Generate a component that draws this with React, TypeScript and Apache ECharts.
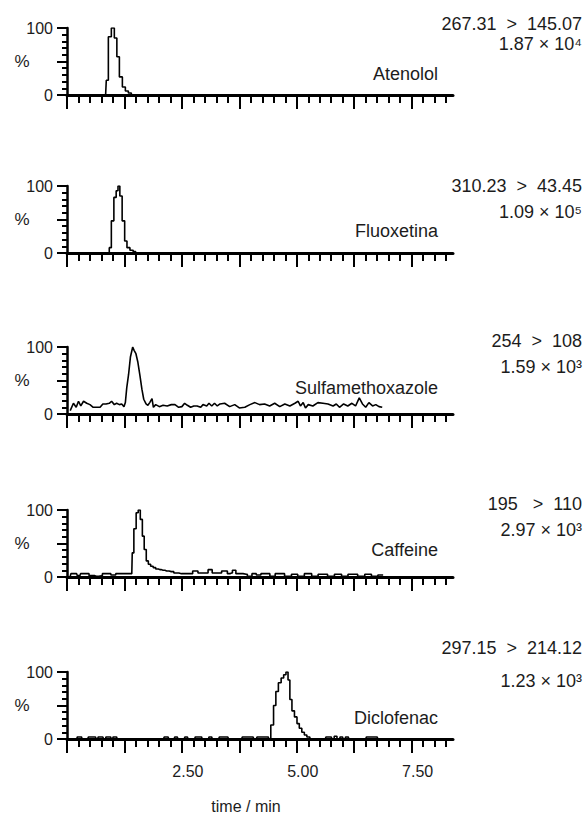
import React, { useEffect, useRef } from "react";
import * as echarts from "echarts";

const compoundNames = ["Atenolol", "Fluoxetina", "Sulfamethoxazole", "Caffeine", "Diclofenac"];
const transitions = ["267.31  >  145.07", "310.23  >  43.45", "254  >  108", "195   >  110", "297.15  >  214.12"];
const intensities = ["1.87 × 10⁴", "1.09 × 10⁵", "1.59 × 10³", "2.97 × 10³", "1.23 × 10³"];

const xMajorTicks = [0, 1.25, 2.5, 3.75, 5, 6.25, 7.5];
const xMinorTicks = [0, 0.25, 0.5, 0.75, 1, 1.25, 1.5, 1.75, 2, 2.25, 2.5, 2.75, 3, 3.25, 3.5, 3.75, 4, 4.25, 4.5, 4.75, 5, 5.25, 5.5, 5.75, 6, 6.25, 6.5, 6.75, 7, 7.25, 7.5, 7.75, 8, 8.25];
const xTickLabels = [2.5, 5, 7.5];
const yTickLabels = [0, 100];

const atenololTrace: [number, number][] = [
  [0.07, 0], [0.84, 0], [0.87, 22], [0.93, 87], [1.0, 100], [1.06, 85], [1.11, 57], [1.17, 27],
  [1.24, 12], [1.3, 6], [1.37, 3], [1.43, 0], [6.9, 0],
];

const fluoxetinaTrace: [number, number][] = [
  [0.07, 0], [0.9, 0], [0.94, 8], [0.99, 48], [1.05, 83], [1.09, 93], [1.13, 100], [1.17, 85],
  [1.23, 48], [1.28, 18], [1.33, 8], [1.41, 4], [1.47, 2], [1.52, 0], [6.9, 0],
];

const sulfamethoxazoleTrace: [number, number][] = [
  [0.07, 5], [0.14, 16], [0.2, 10], [0.25, 19], [0.3, 12], [0.36, 19], [0.43, 16], [0.5, 14],
  [0.57, 10], [0.65, 10], [0.72, 10], [0.78, 15], [0.85, 15], [0.92, 16], [0.97, 19], [1.03, 14],
  [1.08, 16], [1.14, 14], [1.19, 15], [1.24, 11], [1.27, 17], [1.3, 39], [1.34, 59], [1.38, 85],
  [1.43, 100], [1.46, 95], [1.5, 90], [1.54, 78], [1.59, 56], [1.63, 37], [1.67, 22], [1.72, 15],
  [1.76, 13], [1.8, 17], [1.85, 23], [1.88, 10], [1.93, 14], [2.01, 11], [2.09, 13], [2.18, 12],
  [2.27, 14], [2.35, 14], [2.43, 10], [2.5, 11], [2.56, 16], [2.62, 13], [2.69, 10], [2.76, 12],
  [2.83, 12], [2.91, 10], [2.96, 14], [3.04, 12], [3.09, 16], [3.15, 12], [3.21, 16], [3.27, 12],
  [3.33, 15], [3.43, 16], [3.54, 11], [3.65, 14], [3.75, 9], [3.87, 10], [3.98, 14], [4.09, 17],
  [4.19, 14], [4.3, 15], [4.41, 12], [4.52, 16], [4.63, 11], [4.74, 15], [4.85, 12], [4.96, 16],
  [5.03, 19], [5.08, 12], [5.14, 17], [5.19, 9], [5.25, 14], [5.35, 12], [5.46, 17], [5.57, 16],
  [5.68, 15], [5.79, 12], [5.86, 15], [5.93, 10], [6.02, 15], [6.11, 12], [6.2, 16], [6.28, 12],
  [6.36, 24], [6.43, 15], [6.5, 10], [6.57, 17], [6.65, 12], [6.72, 14], [6.79, 11], [6.86, 10],
];

const caffeineTrace: [number, number][] = [
  [0.07, 1], [0.1, 5], [0.21, 5], [0.24, 2], [0.28, 2], [0.31, 5], [0.36, 5], [0.46, 5], [0.5, 2],
  [0.57, 2], [0.64, 1], [0.75, 2], [0.79, 5], [0.83, 5], [0.93, 5], [0.98, 3], [1.04, 3], [1.08, 5],
  [1.15, 5], [1.3, 5], [1.41, 5], [1.43, 36], [1.48, 72], [1.53, 96], [1.57, 100], [1.62, 86],
  [1.66, 61], [1.7, 41], [1.75, 24], [1.79, 19], [1.85, 16], [1.9, 14], [1.96, 12], [2.02, 11],
  [2.09, 10], [2.17, 9], [2.27, 8], [2.38, 6], [2.49, 5], [2.6, 5], [2.71, 5], [2.76, 9], [2.82, 9],
  [2.88, 6], [2.93, 6], [3.04, 6], [3.1, 11], [3.14, 11], [3.18, 6], [3.22, 6], [3.33, 6], [3.4, 9],
  [3.47, 9], [3.51, 5], [3.58, 6], [3.62, 10], [3.65, 10], [3.7, 5], [3.76, 5], [3.9, 4], [3.95, 1],
  [4.0, 1], [4.05, 5], [4.19, 3], [4.25, 5], [4.38, 5], [4.45, 1], [4.5, 1], [4.56, 5], [4.7, 5],
  [4.77, 1], [4.85, 1], [4.92, 4], [4.99, 4], [5.05, 1], [5.12, 1], [5.21, 5], [5.3, 5], [5.35, 1],
  [5.43, 1], [5.5, 4], [5.64, 4], [5.7, 1], [5.78, 1], [5.86, 4], [5.95, 4], [6.0, 1], [6.08, 1],
  [6.15, 4], [6.3, 4], [6.35, 1], [6.45, 1], [6.51, 4], [6.6, 4], [6.65, 1], [6.73, 1], [6.8, 3],
  [6.88, 3],
];

const diclofenacTrace: [number, number][] = [
  [0.07, 0], [0.2, 0], [0.24, 3], [0.3, 3], [0.34, 0], [0.45, 0], [0.48, 3], [0.62, 3], [0.65, 0],
  [0.7, 3], [0.78, 3], [0.81, 0], [0.88, 3], [0.95, 3], [0.98, 0], [1.02, 3], [1.08, 3], [1.1, 0],
  [2.1, 0], [2.13, 3], [2.2, 3], [2.23, 0], [2.33, 0], [2.36, 3], [2.4, 3], [2.43, 0], [2.55, 0],
  [2.58, 3], [2.62, 3], [2.65, 0], [2.78, 0], [2.8, 3], [2.93, 3], [2.95, 0], [3.08, 0], [3.1, 3],
  [3.15, 3], [3.17, 0], [3.3, 0], [3.33, 3], [3.5, 3], [3.53, 0], [3.8, 0], [3.83, 3], [4.05, 3],
  [4.08, 0], [4.12, 0], [4.15, 3], [4.38, 3], [4.4, 0], [4.47, 21], [4.52, 50], [4.57, 71],
  [4.63, 84], [4.69, 91], [4.74, 96], [4.79, 100], [4.83, 88], [4.87, 59], [4.92, 42], [4.98, 33],
  [5.03, 23], [5.08, 16], [5.14, 10], [5.19, 6], [5.25, 3], [5.32, 0], [5.62, 0], [5.65, 3],
  [5.75, 3], [5.78, 0], [5.85, 4], [5.9, 0], [5.98, 3], [6.02, 0], [6.1, 3], [6.15, 0], [6.5, 0],
  [6.53, 3], [6.75, 3], [6.78, 0], [6.88, 0],
];

const traces = [atenololTrace, fluoxetinaTrace, sulfamethoxazoleTrace, caffeineTrace, diclofenacTrace];
const stepped = [true, true, false, true, true];

// layout
const GRID_LEFT = 67;
const GRID_WIDTH = 386;
const GRID_HEIGHT = 67;
const gridTops = [28, 186, 347, 510, 672];
const massY = [24, 186, 341, 504, 648];
const intensityY = [44, 212, 367, 530, 681];
const nameY = [74, 231, 388, 550, 718];

const FONT = '"Liberation Sans", Arial, Helvetica, sans-serif';
const TEXT_COLOR = "#1c1c1c";

export default function App() {
  const ref = useRef<HTMLDivElement | null>(null);

  useEffect(() => {
    if (!ref.current) return;
    const chart = echarts.init(ref.current, null, { renderer: "svg" });

    const grids: any[] = [];
    const xAxes: any[] = [];
    const yAxes: any[] = [];
    const series: any[] = [];
    const graphics: any[] = [];

    traces.forEach((trace, i) => {
      grids.push({ left: GRID_LEFT, top: gridTops[i], width: GRID_WIDTH, height: GRID_HEIGHT });
      const isLast = i === traces.length - 1;
      // minor ticks + axis line
      xAxes.push({
        type: "value",
        gridIndex: i,
        position: "bottom",
        min: 0,
        max: 8.4,
        axisLine: { show: true, onZero: false, lineStyle: { color: "#000", width: 3 } },
        axisTick: { show: true, customValues: xMinorTicks, length: 8, lineStyle: { color: "#000", width: 2 } },
        axisLabel: isLast
          ? {
              show: true,
              customValues: xTickLabels,
              formatter: (v: number) => v.toFixed(2),
              margin: 24,
              padding: [0, 0, 0, 12],
              fontSize: 16,
              fontFamily: FONT,
              color: TEXT_COLOR,
            }
          : { show: false },
        splitLine: { show: false },
      });
      // major ticks
      xAxes.push({
        type: "value",
        gridIndex: i,
        position: "bottom",
        min: 0,
        max: 8.4,
        axisLine: { show: false, onZero: false },
        axisTick: { show: true, customValues: xMajorTicks, length: 14, lineStyle: { color: "#000", width: 2 } },
        axisLabel: { show: false },
        splitLine: { show: false },
      });
      yAxes.push({
        type: "value",
        gridIndex: i,
        min: 0,
        max: 100,
        interval: 50,
        axisLine: { show: true, onZero: false, lineStyle: { color: "#000", width: 2.5 } },
        axisTick: { show: true, length: 10, lineStyle: { color: "#000", width: 2 } },
        minorTick: { show: true, splitNumber: 5, length: 5, lineStyle: { color: "#000", width: 2 } },
        axisLabel: {
          show: true,
          customValues: yTickLabels,
          margin: 14,
          fontSize: 16,
          fontFamily: FONT,
          color: TEXT_COLOR,
        },
        splitLine: { show: false },
        minorSplitLine: { show: false },
      });
      series.push({
        type: "line",
        xAxisIndex: i * 2,
        yAxisIndex: i,
        data: trace,
        step: stepped[i] ? "middle" : false,
        showSymbol: false,
        symbol: "none",
        lineStyle: { color: "#000", width: 1.6 },
        z: 1,
      });

      graphics.push({
        type: "text",
        style: {
          text: "%",
          x: 22,
          y: gridTops[i] + GRID_HEIGHT / 2,
          align: "center",
          verticalAlign: "middle",
          font: `17px ${FONT}`,
          fill: TEXT_COLOR,
        },
      });
      graphics.push({
        type: "text",
        style: {
          text: transitions[i],
          x: 582,
          y: massY[i],
          align: "right",
          verticalAlign: "middle",
          font: `18px ${FONT}`,
          fill: TEXT_COLOR,
        },
      });
      graphics.push({
        type: "text",
        style: {
          text: intensities[i],
          x: 582,
          y: intensityY[i],
          align: "right",
          verticalAlign: "middle",
          font: `18px ${FONT}`,
          fill: TEXT_COLOR,
        },
      });
      graphics.push({
        type: "text",
        style: {
          text: compoundNames[i],
          x: 438,
          y: nameY[i],
          align: "right",
          verticalAlign: "middle",
          font: `18px ${FONT}`,
          fill: TEXT_COLOR,
        },
      });
    });

    graphics.push({
      type: "text",
      style: {
        text: "time / min",
        x: 246,
        y: 806,
        align: "center",
        verticalAlign: "middle",
        font: `16px ${FONT}`,
        fill: TEXT_COLOR,
      },
    });

    chart.setOption({
      animation: false,
      backgroundColor: "#fff",
      grid: grids,
      xAxis: xAxes,
      yAxis: yAxes,
      series,
      graphic: graphics,
    });

    return () => chart.dispose();
  }, []);

  return (
    <div
      ref={ref}
      style={{ position: "absolute", left: 0, top: 0, width: 587, height: 819, background: "#fff" }}
    />
  );
}
